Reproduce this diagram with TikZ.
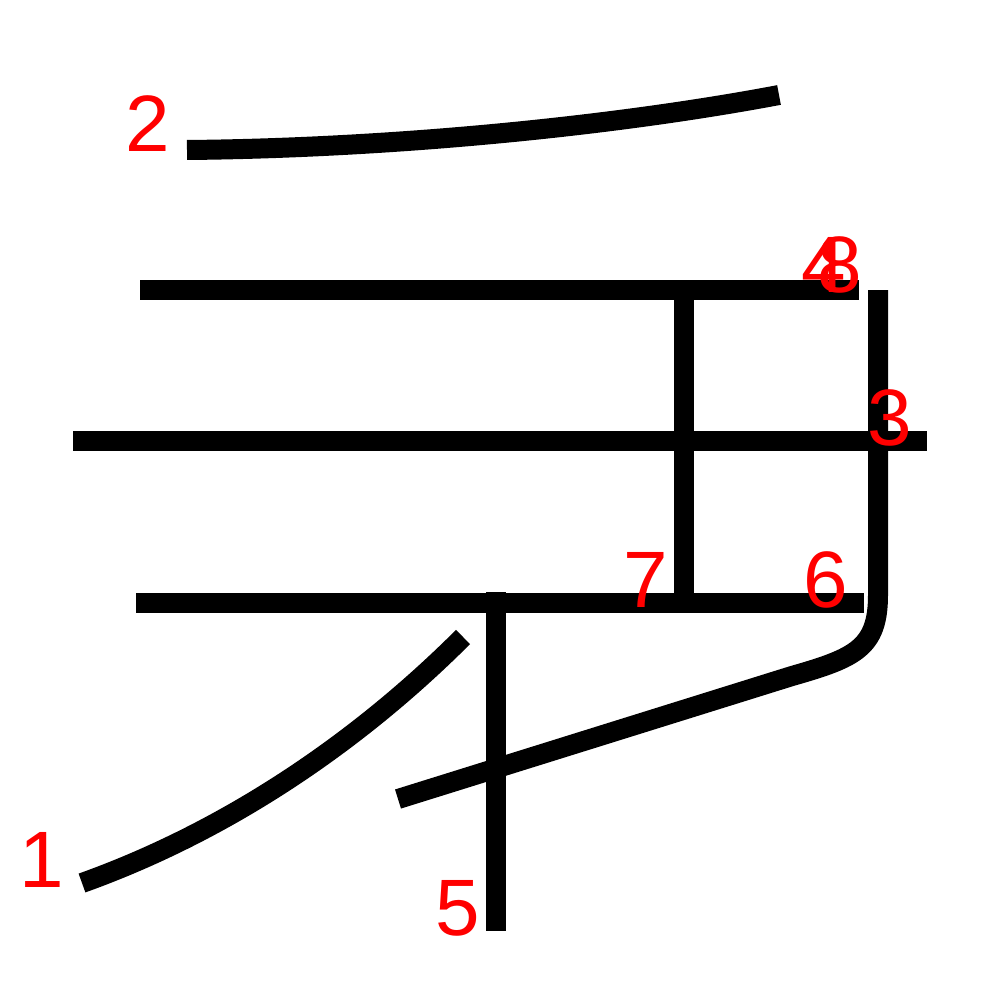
\documentclass[tikz,border=0pt]{standalone}
\usepackage{fontspec}
\setmainfont{Liberation Sans}
\begin{document}
\begin{tikzpicture}[x=1pt,y=-1pt,
  strokeline/.style={line width=20pt,black,line cap=butt,line join=round},
  numlabel/.style={text=red,font=\fontsize{80}{80}\selectfont,inner sep=0pt,anchor=center}]
\useasboundingbox (0,0) rectangle (1000,1000);
% stroke 1
\coordinate (s1a) at (82,883);
\coordinate (s1b) at (463,637);
\draw[strokeline] (s1a) .. controls (230,830) and (360,740) .. (s1b);
% stroke 2
\coordinate (s2a) at (187,150);
\coordinate (s2b) at (779,95);
\draw[strokeline] (s2a) .. controls (400,148) and (620,125) .. (s2b);
% stroke 3
\coordinate (s3a) at (73,441);
\coordinate (s3b) at (927,441);
\draw[strokeline] (s3a) -- (s3b);
% stroke 4
\coordinate (s4a) at (140,290);
\coordinate (s4b) at (859,290);
\draw[strokeline] (s4a) -- (s4b);
% stroke 5
\coordinate (s5a) at (496,592);
\coordinate (s5b) at (496,931);
\draw[strokeline] (s5a) -- (s5b);
% stroke 6
\coordinate (s6a) at (136,603);
\coordinate (s6b) at (864,603);
\draw[strokeline] (s6a) -- (s6b);
% stroke 7
\coordinate (s7a) at (684,297);
\coordinate (s7b) at (684,597);
\draw[strokeline] (s7a) -- (s7b);
% stroke 8
\coordinate (s8a) at (878,290);
\coordinate (s8b) at (878,595);
\coordinate (s8c) at (792,676);
\coordinate (s8d) at (398,799);
\draw[strokeline] (s8a) -- (s8b) .. controls (878,648) and (855,658) .. (s8c) -- (s8d);
% labels
\node[numlabel] (n1) at (42,860) {1};
\node[numlabel] (n2) at (148,124) {2};
\node[numlabel] (n3) at (890,418) {3};
\node[numlabel] (n4) at (824,265) {4};
\node[numlabel] (n8) at (840,265) {8};
\node[numlabel] (n5) at (458,908) {5};
\node[numlabel] (n6) at (826,580) {6};
\node[numlabel] (n7) at (646,580) {7};
\end{tikzpicture}
\end{document}
